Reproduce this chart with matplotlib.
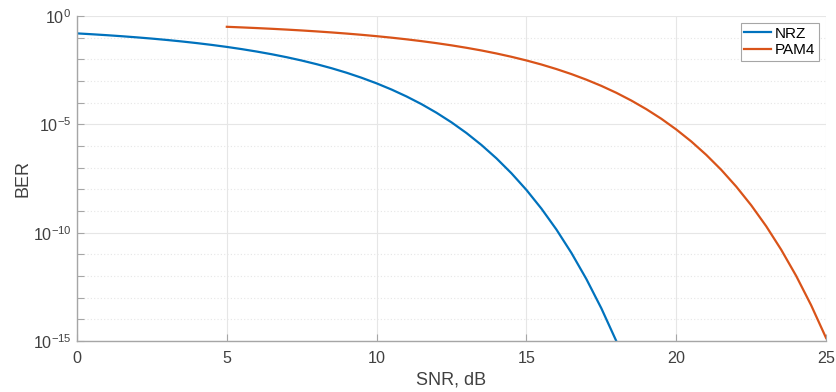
import matplotlib
matplotlib.use("Agg")
import matplotlib.pyplot as plt
from matplotlib import ticker

plt.rcParams['font.family'] = ['Liberation Sans', 'DejaVu Sans']
plt.rcParams['mathtext.fontset'] = 'custom'
plt.rcParams['mathtext.rm'] = 'Liberation Sans'
plt.rcParams['mathtext.it'] = 'Liberation Sans'
plt.rcParams['mathtext.bf'] = 'Liberation Sans'

nrz_snr = [0, 0.5, 1, 1.5, 2, 2.5, 3, 3.5, 4, 4.5, 5, 5.5, 6, 6.5, 7, 7.5, 8, 8.5,
           9, 9.5, 10, 10.5, 11, 11.5, 12, 12.5, 13, 13.5, 14, 14.5, 15, 15.5,
           16, 16.5, 17, 17.5, 18]
nrz_ber = [0.1587, 0.1448, 0.1310, 0.1173, 0.1040, 0.0912, 0.0789, 0.0673, 0.0565,
           0.0466, 0.0377, 0.0298, 0.0230, 0.01728, 0.01259, 0.00886, 0.00600,
           0.003898, 0.002416, 0.001416, 7.83e-4, 4.05e-4, 1.94e-4, 8.56e-5,
           3.43e-5, 1.237e-5, 3.97e-6, 1.114e-6, 2.696e-7, 5.514e-8, 9.38e-9,
           1.289e-9, 1.40e-10, 1.167e-11, 7.23e-13, 3.217e-14, 9.82e-16]

pam4_snr = [5, 5.5, 6, 6.5, 7, 7.5, 8, 8.5, 9, 9.5, 10, 10.5, 11, 11.5, 12, 12.5,
            13, 13.5, 14, 14.5, 15, 15.5, 16, 16.5, 17, 17.5, 18, 18.5, 19, 19.5,
            20, 20.5, 21, 21.5, 22, 22.5, 23, 23.5, 24, 24.5, 25]
pam4_ber = [0.3199, 0.2997, 0.2792, 0.2585, 0.2376, 0.2167, 0.1959, 0.1755, 0.1556,
            0.1364, 0.1179, 0.1006, 0.0844, 0.0696, 0.0562, 0.0445, 0.0343, 0.0258,
            0.01875, 0.01319, 0.00893, 0.00580, 0.00358, 0.00210, 1.158e-3, 5.99e-4,
            2.87e-4, 1.26e-4, 5.04e-5, 1.82e-5, 5.81e-6, 1.63e-6, 3.92e-7, 8.0e-8,
            1.35e-8, 1.85e-9, 2.0e-10, 1.65e-11, 1.02e-12, 4.5e-14, 1.37e-15]

x_ticks = [0, 5, 10, 15, 20, 25]
y_major = [1e-15, 1e-10, 1e-5, 1e0]
y_minor = [10.0 ** (-k) for k in range(16)]

fig = plt.figure(figsize=(8.37, 3.92), dpi=100)
ax = fig.add_axes([0.092, 0.130, 0.895, 0.829])

ax.plot(nrz_snr, nrz_ber, color='#0072BD', lw=1.6, label='NRZ')
ax.plot(pam4_snr, pam4_ber, color='#D95319', lw=1.6, label='PAM4')

ax.set_yscale('log')
ax.set_xlim(0, 25)
ax.set_ylim(1e-15, 1e0)
ax.set_xticks(x_ticks)
ax.set_yticks(y_major)
ax.yaxis.set_minor_locator(ticker.FixedLocator(y_minor))
ax.yaxis.set_minor_formatter(ticker.NullFormatter())
ax.yaxis.set_major_formatter(ticker.LogFormatterSciNotation())

ax.grid(True, which='major', color='#e6e6e6', lw=0.8, ls='-')
ax.grid(True, which='minor', axis='y', color='#e6e6e6', lw=0.8, ls=(0, (1, 2)))
ax.set_axisbelow(True)

for s in ['top', 'right']:
    ax.spines[s].set_visible(False)
for s in ['left', 'bottom']:
    ax.spines[s].set_color('#a6a6a6')
    ax.spines[s].set_linewidth(1.0)

ax.tick_params(which='both', direction='in', color='#a6a6a6', labelcolor='#404040',
               labelsize=11.6, length=5, width=0.8)
ax.tick_params(axis='x', pad=7)
ax.tick_params(axis='y', pad=4)

ax.set_xlabel('SNR, dB', fontsize=13, color='#404040', labelpad=4)
ax.set_ylabel('BER', fontsize=13, color='#404040', labelpad=1)

leg = ax.legend(loc='upper right', fontsize=11, fancybox=False, framealpha=1,
                edgecolor='#a6a6a6', handlelength=1.75, handletextpad=0.25,
                borderpad=0.25, labelspacing=0.15, borderaxespad=0.45)
leg.get_frame().set_linewidth(0.8)

fig.savefig('out.png', dpi=100)
